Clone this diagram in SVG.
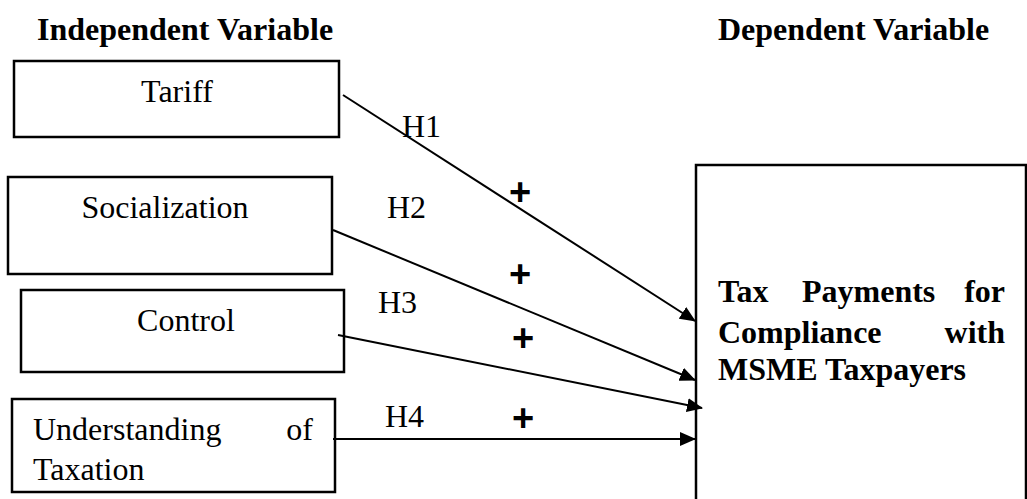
<svg xmlns="http://www.w3.org/2000/svg" width="1027" height="499" viewBox="0 0 1027 499">
<defs>
<marker id="arr" markerWidth="16" markerHeight="14" refX="15" refY="7" orient="auto" markerUnits="userSpaceOnUse">
<path d="M0,0 L16,7 L0,14 Z" fill="#000"/>
</marker>
<style>
.box{fill:#fff;stroke:#000;stroke-width:2.5}
.t{font-family:"Liberation Serif","Times New Roman",serif;font-size:32px;fill:#000}
.b{font-family:"Liberation Serif","Times New Roman",serif;font-size:32px;font-weight:bold;fill:#000}
.p{font-family:"Liberation Sans",Arial,sans-serif;font-size:38px;font-weight:bold;fill:#000;text-anchor:middle}
.c{stroke:#000;stroke-width:2;fill:none;marker-end:url(#arr)}
</style>
</defs>
<rect width="1027" height="499" fill="#fff"/>
<text class="b" x="37" y="40">Independent Variable</text>
<text class="b" x="718" y="40">Dependent Variable</text>
<g id="tariff">
<rect class="box" x="14" y="61" width="325" height="76"/>
<text class="t" x="177" y="102" text-anchor="middle">Tariff</text>
</g>
<g id="socialization">
<rect class="box" x="8" y="177" width="324" height="97"/>
<text class="t" x="165" y="218" text-anchor="middle">Socialization</text>
</g>
<g id="control">
<rect class="box" x="21" y="290" width="323" height="82"/>
<text class="t" x="186" y="331" text-anchor="middle">Control</text>
</g>
<g id="understanding">
<rect class="box" x="12" y="399" width="323" height="93"/>
<text class="t" x="33" y="440">Understanding</text>
<text class="t" x="313" y="440" text-anchor="end">of</text>
<text class="t" x="33" y="480">Taxation</text>
</g>
<g id="dependent">
<path class="box" d="M696,499 V165 H1026 V499"/>
<text class="b" x="718" y="302">Tax</text>
<text class="b" x="802" y="302">Payments</text>
<text class="b" x="1005" y="302" text-anchor="end">for</text>
<text class="b" x="718" y="343">Compliance</text>
<text class="b" x="1005" y="343" text-anchor="end">with</text>
<text class="b" x="718" y="380">MSME Taxpayers</text>
</g>
<g id="connectors">
<line class="c" x1="343" y1="95" x2="695" y2="321"/>
<line class="c" x1="333" y1="230" x2="695" y2="380"/>
<line class="c" x1="338" y1="335" x2="702" y2="408"/>
<line class="c" x1="333" y1="439" x2="695" y2="439"/>
<text class="t" x="402" y="137">H1</text>
<text class="t" x="387" y="218">H2</text>
<text class="t" x="378" y="313">H3</text>
<text class="t" x="385" y="427">H4</text>
<text class="p" x="520" y="205">+</text>
<text class="p" x="520" y="287">+</text>
<text class="p" x="523" y="351">+</text>
<text class="p" x="523" y="431">+</text>
</g>
</svg>
